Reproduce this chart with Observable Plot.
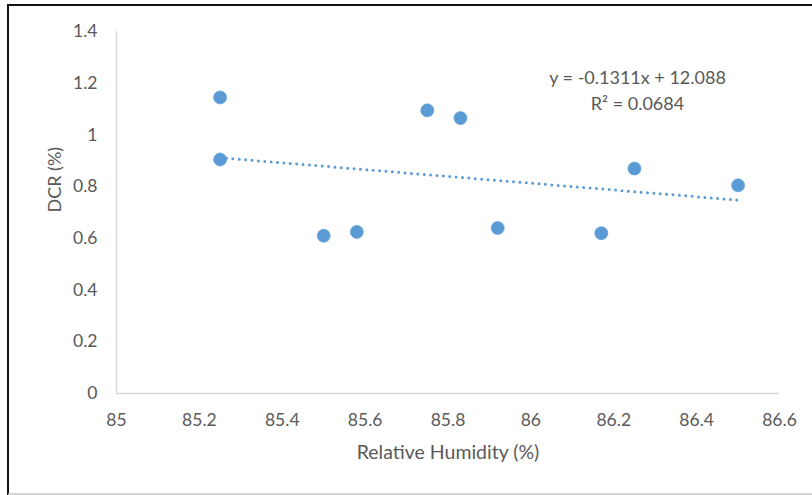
<!DOCTYPE html>
<html>
<head>
<meta charset="utf-8">
<script src="https://cdn.jsdelivr.net/npm/d3@7"></script>
<script src="https://cdn.jsdelivr.net/npm/@observablehq/plot@0.6"></script>
<style>
  html, body { margin: 0; padding: 0; background: #fff; }
  #wrap { position: relative; width: 812px; height: 495px; overflow: hidden; }
  #frame {
    position: absolute; left: 7px; top: 4px; width: 900px; height: 487px;
    border-left: 2px solid #111; border-top: 2px solid #111; border-bottom: 3px solid #d4d4d4;
    pointer-events: none;
  }
</style>
</head>
<body>
<div id="wrap"><div id="frame"></div></div>
<script>
// Relative humidity (%) against DCR (%)
const humidity = [85.25, 85.25, 85.5, 85.58, 85.75, 85.83, 85.92, 86.17, 86.25, 86.5];
const dcr      = [1.145, 0.905, 0.61, 0.625, 1.095, 1.065, 0.64, 0.62, 0.87, 0.805];

// Linear trendline, as stated in the equation label
const slope = -0.1311;
const intercept = 12.088;
const rSquared = 0.0684;

const xTicks = [85, 85.2, 85.4, 85.6, 85.8, 86, 86.2, 86.4, 86.6];
const yTicks = [0, 0.2, 0.4, 0.6, 0.8, 1, 1.2, 1.4];

const xTitle = "Relative Humidity (%)";
const yTitle = "DCR (%)";

const points = humidity.map((h, i) => ({h, d: dcr[i]}));
const xExtent = d3.extent(humidity);
const trend = xExtent.map(h => ({h, d: slope * h + intercept}));
const equation = `y = ${slope}x + ${intercept}\nR² = ${rSquared}`;

const fmt = d => String(+d.toFixed(1));
const ink = "#595959";
const blue = "#5b9bd5";

const chart = Plot.plot({
  width: 812,
  height: 495,
  marginLeft: 116,
  marginTop: 31,
  marginRight: 33,
  marginBottom: 102,
  style: { fontFamily: "Lato, 'Open Sans', sans-serif", fontSize: "17.5px", background: "transparent" },
  x: { domain: [85, 86.6] },
  y: { domain: [0, 1.4] },
  marks: [
    Plot.ruleX([85], { stroke: "#d9d9d9", strokeWidth: 1.3 }),
    Plot.ruleY([0], { stroke: "#d9d9d9", strokeWidth: 1.3 }),
    Plot.axisX({ ticks: xTicks, tickSize: 0, tickPadding: 20, tickFormat: fmt, fill: ink, label: null }),
    Plot.axisY({ ticks: yTicks, tickSize: 0, tickPadding: 19, tickFormat: fmt, fill: ink, label: null }),
    Plot.line(trend, { x: "h", y: "d", stroke: blue, strokeWidth: 3, strokeDasharray: "0 6.4", strokeLinecap: "round" }),
    Plot.dot(points, { x: "h", y: "d", r: 6.5, fill: blue, stroke: "#6aa5da", strokeWidth: 0.8 }),
    Plot.text([equation], { frameAnchor: "top-right", dx: -142, dy: 35, textAnchor: "middle", lineAnchor: "top", lineHeight: 1.4, fontSize: 18, fill: ink }),
    Plot.text([xTitle], { frameAnchor: "bottom", dy: 65, lineAnchor: "bottom", fontSize: 19.5, fill: ink }),
    Plot.text([yTitle], { frameAnchor: "left", dx: -61, rotate: -90, fontSize: 18, fill: ink })
  ]
});
document.getElementById("wrap").prepend(chart);
</script>
</body>
</html>
